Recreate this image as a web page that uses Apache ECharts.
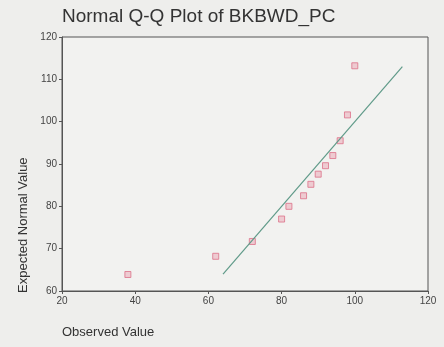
<!DOCTYPE html>
<html>
<head>
<meta charset="utf-8">
<script src="https://cdn.jsdelivr.net/npm/echarts@6/dist/echarts.min.js"></script>
<style>
  html, body { margin: 0; padding: 0; background: #eeeeec; }
  #chart { width: 444px; height: 347px; }
</style>
</head>
<body>
<div id="chart"></div>
<script>
// Observed scores and their expected normal quantiles
const observed = [38, 62, 72, 80, 82, 86, 88, 90, 92, 94, 96, 98, 100];
const expected = [63.9, 68.2, 71.7, 77.0, 80.0, 82.5, 85.2, 87.6, 89.6, 92.0, 95.5, 101.6, 113.2];
// Reference line y = x across the expected range
const refLine = [64, 113];
const xTicks = [20, 40, 60, 80, 100, 120];
const yTicks = [60, 70, 80, 90, 100, 110, 120];

const points = observed.map((v, i) => [v, expected[i]]);
const linePts = refLine.map(v => [v, v]);

const chart = echarts.init(document.getElementById('chart'));
const axisCommon = {
  axisLine: { show: true, lineStyle: { color: '#555', width: 1 } },
  axisTick: { show: true, length: 3, lineStyle: { color: '#555' } },
  splitLine: { show: false },
  axisLabel: { color: '#444', fontFamily: 'Liberation Sans, Arial', fontSize: 10, margin: 5 }
};
chart.setOption({
  backgroundColor: '#eeeeec',
  animation: false,
  title: {
    text: 'Normal Q-Q Plot of BKBWD_PC',
    left: 57, top: 2,
    textStyle: { fontFamily: 'Liberation Sans, Arial', fontSize: 19, fontWeight: 'normal', color: '#333' }
  },
  grid: {
    left: 62, right: 16, top: 37, bottom: 56,
    show: true, borderColor: '#555', borderWidth: 1, backgroundColor: '#f2f2f0'
  },
  xAxis: Object.assign({}, axisCommon, {
    type: 'value', min: xTicks[0], max: xTicks[xTicks.length - 1], interval: 20
  }),
  yAxis: Object.assign({}, axisCommon, {
    type: 'value', min: yTicks[0], max: yTicks[yTicks.length - 1], interval: 10
  }),
  graphic: [
    {
      type: 'text', left: 62, top: 326,
      style: { text: 'Observed Value', fill: '#333', font: '13px "Liberation Sans", Arial' }
    },
    {
      type: 'text', x: 17, y: 293, rotation: Math.PI / 2,
      style: { text: 'Expected Normal Value', fill: '#333', font: '13px "Liberation Sans", Arial' }
    }
  ],
  series: [
    {
      type: 'line', data: linePts, symbol: 'none', silent: true,
      lineStyle: { color: '#5f9a88', width: 1.2 }
    },
    {
      type: 'scatter', data: points, symbol: 'rect', symbolSize: 6,
      itemStyle: { color: 'rgba(235,160,175,0.6)', borderColor: '#dc7088', borderWidth: 1 }
    }
  ]
});
</script>
</body>
</html>
